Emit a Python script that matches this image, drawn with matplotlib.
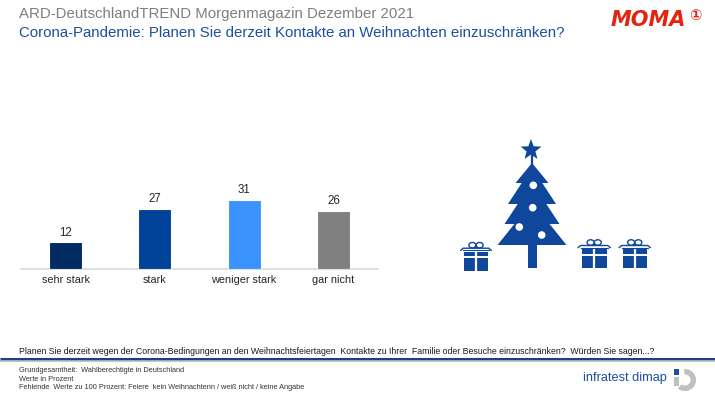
import numpy as np
import matplotlib
matplotlib.use('Agg')
import matplotlib.pyplot as plt
import matplotlib.patches as mpatches

# ── Data ──────────────────────────────────────────────────────────────────────
categories = ["sehr stark", "stark", "weniger stark", "gar nicht"]
values     = [12, 27, 31, 26]
bar_colors = ["#002B63", "#004199", "#3A93FF", "#808080"]

title    = "ARD-DeutschlandTREND Morgenmagazin Dezember 2021"
subtitle = "Corona-Pandemie: Planen Sie derzeit Kontakte an Weihnachten einzuschränken?"
question = ("Planen Sie derzeit wegen der Corona-Bedingungen an den Weihnachtsfeiertagen  "
            "Kontakte zu Ihrer  Familie oder Besuche einzuschränken?  Würden Sie sagen...?")
notes    = ["Grundgesamtheit:  Wahlberechtigte in Deutschland",
            "Werte in Prozent",
            "Fehlende  Werte zu 100 Prozent: Feiere  kein Weihnachtenn / weiß nicht / keine Angabe"]

# ── Style ─────────────────────────────────────────────────────────────────────
GRAY  = "#7F7F7F"
RED   = "#E3250F"
plt.rcParams["font.family"] = ["Liberation Sans", "DejaVu Sans"]

W, H = 715, 403
fig = plt.figure(figsize=(W / 100, H / 100), dpi=100, facecolor="white")

# ── Bar chart ─────────────────────────────────────────────────────────────────
ax = fig.add_axes([21 / W, 1 - 269 / H, 357 / W, 89.6 / H])
x = np.arange(len(categories))
bars = ax.bar(x, values, width=0.37, color=bar_colors, edgecolor="white",
              linewidth=0.8, zorder=3)
for b, v in zip(bars, values):
    ax.text(b.get_x() + b.get_width() / 2, v + 1.6, f"{v}", ha="center",
            va="bottom", fontsize=8.3, color="#262626")
ax.set_xlim(-0.5, 3.5)
ax.set_ylim(0, 40)
ax.set_xticks(x)
ax.set_xticklabels(categories, fontsize=7.8, color="#262626")
ax.tick_params(axis="x", length=0, pad=4)
ax.set_yticks([])
for s in ["top", "left", "right"]:
    ax.spines[s].set_visible(False)
ax.spines["bottom"].set_color("#D9D9D9")
ax.spines["bottom"].set_linewidth(1.2)
ax.patch.set_alpha(0)

# ── Overlay in pixel coordinates ──────────────────────────────────────────────
art = fig.add_axes([0, 0, 1, 1], zorder=-1)
art.set_xlim(0, W)
art.set_ylim(H, 0)
art.axis("off")

art.text(19, 14, title, fontsize=10.8, color=GRAY, va="center", ha="left")
art.text(19, 33, subtitle, fontsize=10.8, color="#1C4FA0", va="center", ha="left")

# MOMA logo
art.text(611, 20, "MOMA", fontsize=15, fontweight="bold", style="italic",
         color=RED, va="center", ha="left", family="DejaVu Sans")
art.text(695, 15, "\u2460", fontsize=10.5, fontweight="bold", color=RED,
         va="center", ha="center", family="DejaVu Sans")

# footer
art.text(19, 351, question, fontsize=6.3, color="#1A1A1A", va="center", ha="left")
art.plot([0, W], [358.5, 358.5], color="#1F3F80", lw=2.2, solid_capstyle="butt")
art.plot([0, W], [361, 361], color="#B5BCC8", lw=1.2, solid_capstyle="butt")
for i, line in enumerate(notes):
    art.text(19, 371 + i * 8.2, line, fontsize=5.3, color="#333333",
             va="center", ha="left")

# infratest dimap logo
art.text(583, 378, "infratest dimap", fontsize=9.2, color="#1C4FA0",
         va="center", ha="left")
art.add_patch(mpatches.Wedge((685, 380), 11, -95, 130, width=5.5,
                             color="#BFBFBF", lw=0))
art.add_patch(mpatches.Rectangle((674, 377), 5, 9, color="#BFBFBF", lw=0))
art.add_patch(mpatches.Rectangle((674, 369), 5, 5.5, color="#1C4FA0", lw=0))

# ── Christmas tree ────────────────────────────────────────────────────────────
TC = "#0E479C"
cx = 532
tiers = [(163, 0, 183, 16.5), (181, 9, 204, 24), (202, 13, 224, 27.5), (222, 16, 245, 34.5)]
for ytop, hwt, ybot, hwb in tiers:
    art.add_patch(mpatches.Polygon([(cx - hwt, ytop), (cx + hwt, ytop),
                                    (cx + hwb, ybot), (cx - hwb, ybot)],
                                   closed=True, color=TC, lw=0))
art.add_patch(mpatches.Rectangle((cx - 4.5, 244), 9, 24, color=TC, lw=0))
art.plot([cx, cx], [156, 166], color=TC, lw=1.6)
ang = np.pi / 2 + np.arange(10) * np.pi / 5
rad = np.where(np.arange(10) % 2 == 0, 11, 4.6)
art.add_patch(mpatches.Polygon(np.c_[cx - 1 + rad * np.cos(ang), 150 - rad * np.sin(ang)],
                               closed=True, color=TC, lw=0))
for (ox, oy) in [(533.3, 185.3), (532.7, 207.7), (519.3, 227), (541.7, 235)]:
    art.add_patch(mpatches.Circle((ox, oy), 3.8, color="white", lw=0))


def gift(x0, x1, ybot):
    top = ybot - 19
    xm = (x0 + x1) / 2
    art.add_patch(mpatches.Rectangle((x0, top), x1 - x0, ybot - top, color=TC, lw=0))
    art.plot([xm, xm], [top, ybot], color="white", lw=1.6)
    art.plot([x0, x1], [top + 5.5, top + 5.5], color="white", lw=1.4)
    # lid
    art.plot([x0 - 3.5, x0 - 1, x1 + 1, x1 + 3.5], [top - 1.5, top - 3.5, top - 3.5, top - 1.5],
             color=TC, lw=1.0)
    art.plot([x0 - 1, x1 + 1], [top - 1.5, top - 1.5], color=TC, lw=0.8)
    # bow
    for dx in (-3.6, 3.6):
        art.add_patch(mpatches.Ellipse((xm + dx, top - 6.5), 7, 5.5, fill=False,
                                       ec=TC, lw=1.0))
    art.add_patch(mpatches.Circle((xm, top - 4.5), 1.4, color=TC, lw=0))


gift(464.3, 487.7, 270.7)
gift(581.7, 606.7, 268)
gift(622.7, 646.7, 268)

fig.savefig("out.png", dpi=100, facecolor="white")
